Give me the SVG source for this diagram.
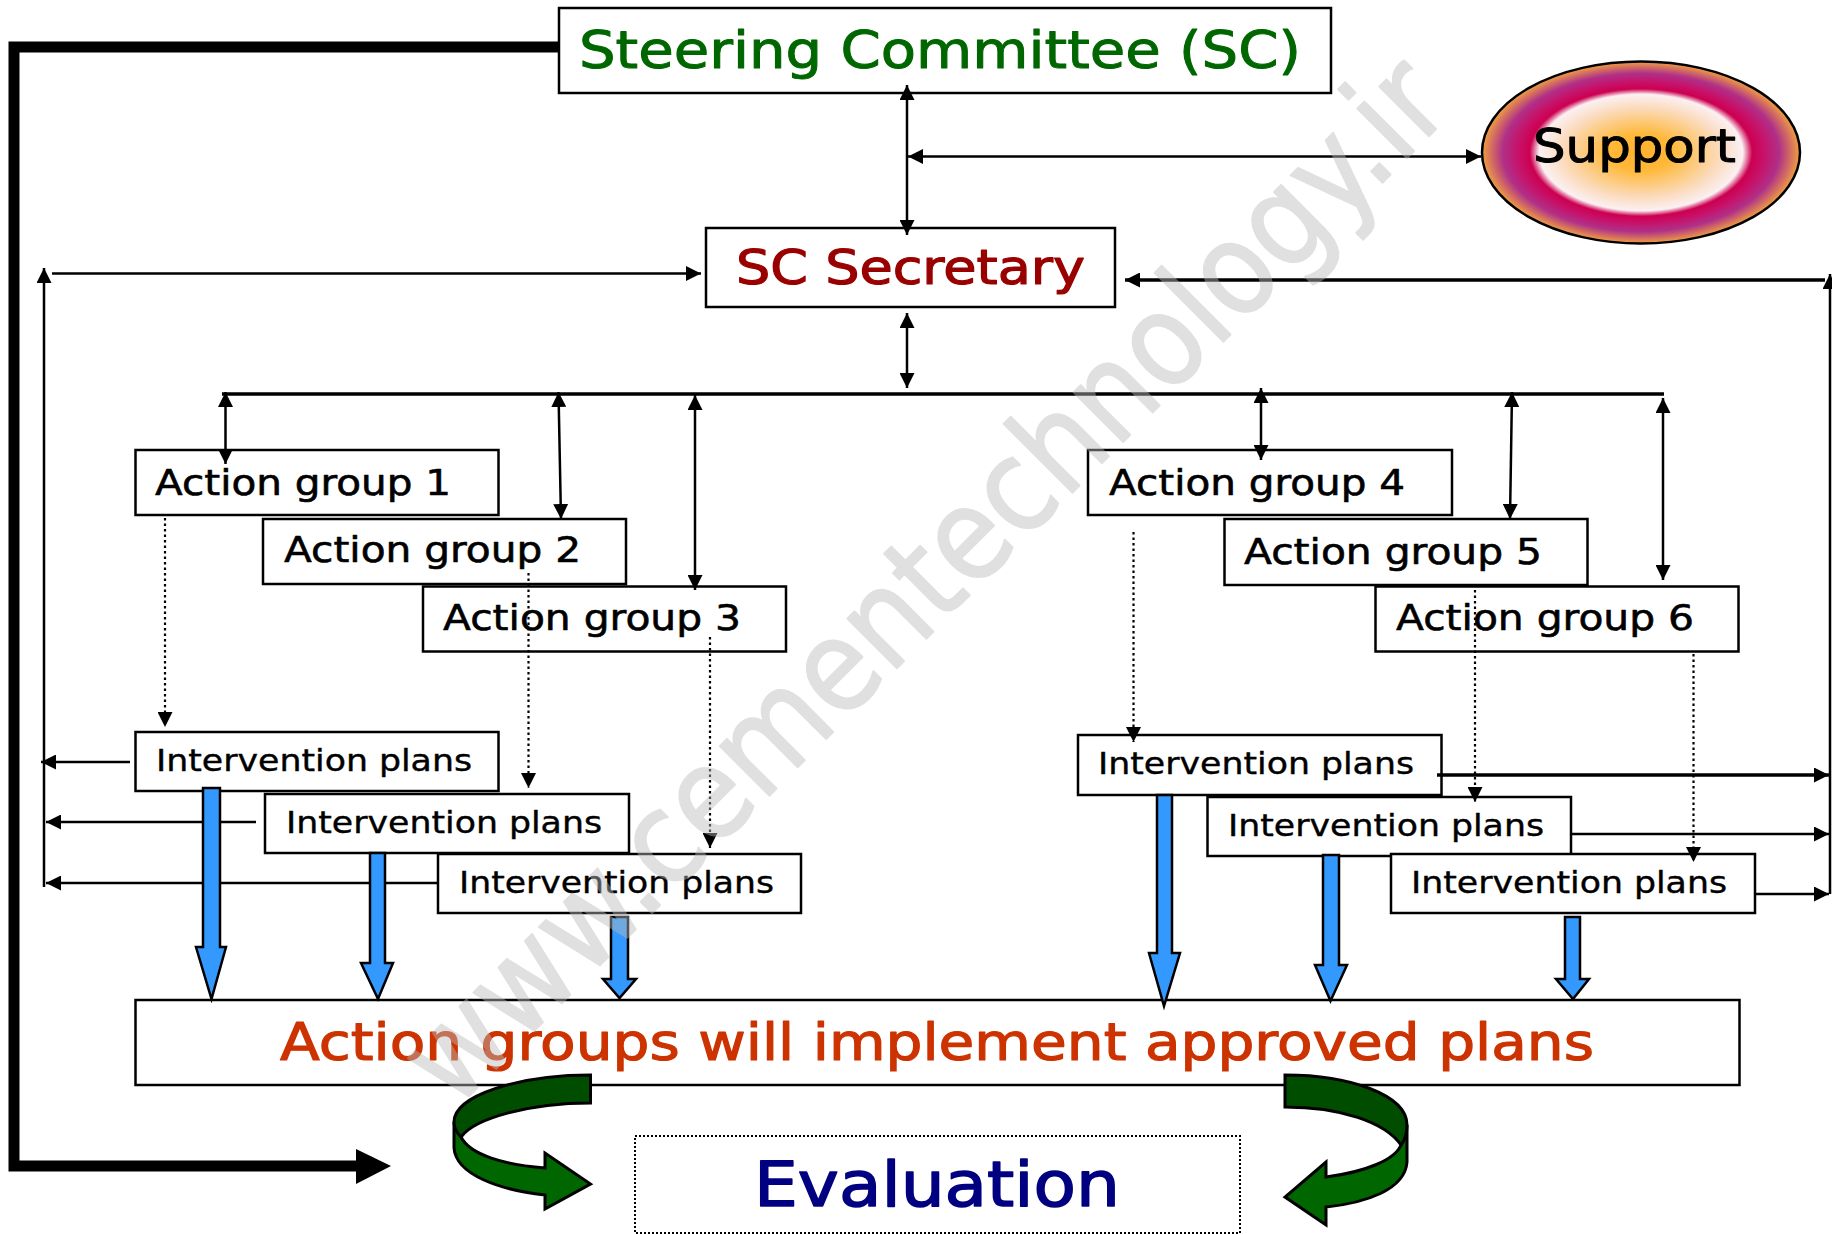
<svg xmlns="http://www.w3.org/2000/svg" width="1832" height="1234" viewBox="0 0 1832 1234">
<defs>
<radialGradient id="sg" cx="0.5" cy="0.5" r="0.5">
<stop offset="0" stop-color="#ffb030"/><stop offset="0.2" stop-color="#ffb838"/><stop offset="0.5" stop-color="#fbdcc0"/><stop offset="0.64" stop-color="#fbf0f2"/><stop offset="0.7" stop-color="#cc0050"/><stop offset="0.77" stop-color="#c81068"/><stop offset="0.87" stop-color="#b03088"/><stop offset="1" stop-color="#f0a040"/>
</radialGradient>
<marker id="h" viewBox="0 0 10 10" refX="10" refY="5" markerWidth="15" markerHeight="15" markerUnits="userSpaceOnUse" orient="auto-start-reverse"><path d="M0 0L10 5L0 10Z" fill="#000"/></marker>
</defs>
<style>
text{font-family:"DejaVu Sans","Liberation Sans",sans-serif;stroke-linejoin:round}
.b{fill:#fff;stroke:#000;stroke-width:2.5}
.a{font-size:36px;fill:#000;stroke:#000;stroke-width:.6}
.i{font-size:31px;fill:#000;stroke:#000;stroke-width:.4}
.l{fill:none;stroke:#000;stroke-width:2.5}
.la{fill:none;stroke:#000;stroke-width:2.5;marker-end:url(#h)}
.lb{fill:none;stroke:#000;stroke-width:2.5;marker-start:url(#h);marker-end:url(#h)}
.d{fill:none;stroke:#000;stroke-width:2.2;stroke-dasharray:2.5 3;marker-end:url(#h)}
.ba{fill:#3399ff;stroke:#000;stroke-width:2.5}
.g1{fill:#006600;stroke:#000;stroke-width:3}
.g2{fill:#004d00;stroke:#000;stroke-width:3}
</style>
<rect width="1832" height="1234" fill="#fff"/>
<g id="steering"><rect class="b" x="559" y="8" width="772" height="85"/><text x="579" y="68" font-size="52" fill="#006600" stroke="#006600" stroke-width="1" textLength="722" lengthAdjust="spacingAndGlyphs">Steering Committee (SC)</text></g>
<g id="support"><ellipse cx="1641" cy="152.500" rx="159" ry="91" fill="url(#sg)" stroke="#000" stroke-width="2.500"/><text x="1533" y="162" font-size="46" fill="#000" stroke="#000" stroke-width="1" textLength="203" lengthAdjust="spacingAndGlyphs">Support</text></g>
<g id="secretary"><rect class="b" x="706" y="228" width="409" height="79"/><text x="736" y="284" font-size="48" fill="#990000" stroke="#990000" stroke-width="1.200" textLength="349" lengthAdjust="spacingAndGlyphs">SC Secretary</text></g>
<g id="ag1"><rect class="b" x="135.500" y="450" width="363" height="65"/><text class="a" x="155" y="495" textLength="296" lengthAdjust="spacingAndGlyphs">Action group 1</text></g>
<g id="ag2"><rect class="b" x="263" y="519" width="363" height="65"/><text class="a" x="284" y="562" textLength="297" lengthAdjust="spacingAndGlyphs">Action group 2</text></g>
<g id="ag3"><rect class="b" x="423" y="586.500" width="363" height="65"/><text class="a" x="443" y="630" textLength="298" lengthAdjust="spacingAndGlyphs">Action group 3</text></g>
<g id="ag4"><rect class="b" x="1088" y="450" width="364" height="65"/><text class="a" x="1109" y="495" textLength="296" lengthAdjust="spacingAndGlyphs">Action group 4</text></g>
<g id="ag5"><rect class="b" x="1224.500" y="519" width="363" height="66"/><text class="a" x="1244" y="564" textLength="298" lengthAdjust="spacingAndGlyphs">Action group 5</text></g>
<g id="ag6"><rect class="b" x="1375.500" y="586.500" width="363" height="65"/><text class="a" x="1396" y="630" textLength="298" lengthAdjust="spacingAndGlyphs">Action group 6</text></g>
<g id="ip1"><rect class="b" x="135.500" y="732" width="363" height="59"/><text class="i" x="156" y="771" textLength="316" lengthAdjust="spacingAndGlyphs">Intervention plans</text></g>
<g id="ip2"><rect class="b" x="265" y="794" width="364" height="59"/><text class="i" x="286" y="833" textLength="316" lengthAdjust="spacingAndGlyphs">Intervention plans</text></g>
<g id="ip3"><rect class="b" x="438" y="854" width="363" height="59"/><text class="i" x="459" y="893" textLength="315" lengthAdjust="spacingAndGlyphs">Intervention plans</text></g>
<g id="ip4"><rect class="b" x="1078" y="735" width="363.500" height="60"/><text class="i" x="1098" y="774" textLength="316" lengthAdjust="spacingAndGlyphs">Intervention plans</text></g>
<g id="ip5"><rect class="b" x="1207.500" y="797" width="363.500" height="59"/><text class="i" x="1228" y="836" textLength="316" lengthAdjust="spacingAndGlyphs">Intervention plans</text></g>
<g id="ip6"><rect class="b" x="1391" y="854" width="364" height="59"/><text class="i" x="1411" y="893" textLength="316" lengthAdjust="spacingAndGlyphs">Intervention plans</text></g>
<g id="implement"><rect class="b" x="135.500" y="1000" width="1604" height="85"/><text x="280" y="1060" font-size="52" fill="#cc3300" stroke="#cc3300" stroke-width="1.200" textLength="1314" lengthAdjust="spacingAndGlyphs">Action groups will implement approved plans</text></g>
<g id="evaluation"><rect x="635" y="1136" width="605" height="97" fill="#fff" stroke="#000" stroke-width="2" stroke-dasharray="2 2"/><text x="754" y="1206" font-size="62" fill="#000080" stroke="#000080" stroke-width="1.500" textLength="366" lengthAdjust="spacingAndGlyphs">Evaluation</text></g>
<g id="connectors">
<path d="M559 47H14V1166H360" fill="none" stroke="#000" stroke-width="11"/>
<path d="M356 1149L391 1166L356 1184Z" fill="#000"/>
<path class="lb" d="M907 85V235"/>
<path class="lb" d="M908 156.500H1481"/>
<path class="la" d="M52 273.500H701"/>
<path class="la" d="M44 887V268"/>
<path class="la" d="M1825 280H1125" style="stroke-width:3.500"/>
<path class="la" d="M1830 894V274"/>
<path class="lb" d="M907 313V388"/>
<path class="l" d="M222 394H1664" style="stroke-width:3.500"/>
<path class="lb" d="M225.500 392V464"/>
<path class="lb" d="M558.500 392L561 519"/>
<path class="lb" d="M695 395V590"/>
<path class="lb" d="M1261 388V460"/>
<path class="lb" d="M1512 392L1510 519"/>
<path class="lb" d="M1663 398V580"/>
<path class="d" d="M165 518V727"/>
<path class="d" d="M528.500 573V788"/>
<path class="d" d="M710 637V848"/>
<path class="d" d="M1133.500 532V742"/>
<path class="d" d="M1475 590V802"/>
<path class="d" d="M1693.500 654V862"/>
<path class="la" d="M130 762H41"/>
<path class="la" d="M256 822H46"/>
<path class="la" d="M437 883H46"/>
<path class="la" d="M1437 775H1829" style="stroke-width:3.500"/>
<path class="la" d="M1572 834H1829"/>
<path class="la" d="M1755 894H1829"/>
<path class="ba" d="M203 788H220V947H226L211.500 999L196 947H203Z"/>
<path class="ba" d="M370 853H385V963H393L378 999L361 963H370Z"/>
<path class="ba" d="M611 917H628V979H636L619.500 998L603 979H611Z"/>
<path class="ba" d="M1157 795H1172V953H1180L1164 1006L1149 953H1157Z"/>
<path class="ba" d="M1323 855H1339V965H1347L1330.500 1001L1315 965H1323Z"/>
<path class="ba" d="M1565 917H1580V979H1589L1573 999L1556 979H1565Z"/>
</g>
<g id="curved-left">
<path class="g1" d="M454 1122V1148C456 1175 500 1190 545 1195V1209L590.500 1184L545 1153V1168C505 1165 470 1155 461 1137Z"/>
<path class="g2" d="M590.500 1075C520 1075 454 1095 454 1122C454 1128 457 1133 461 1137C475 1118 530 1103 590.500 1103Z"/>
</g>
<g id="curved-right">
<path class="g1" d="M1407 1125V1162C1405 1190 1365 1203 1326 1207V1225L1285 1197L1326 1162V1177C1365 1172 1395 1160 1401 1145Z"/>
<path class="g2" d="M1285 1075C1350 1075 1407 1095 1407 1125C1407 1133 1405 1140 1401 1145C1385 1122 1340 1107 1285 1107Z"/>
</g>
<g id="watermark" opacity="0.45"><text transform="translate(454 1111) rotate(-45)" font-size="128" fill="#bbb" stroke="#bbb" stroke-width="2" textLength="1415" lengthAdjust="spacingAndGlyphs">www.cementechnology.ir</text></g>
</svg>
